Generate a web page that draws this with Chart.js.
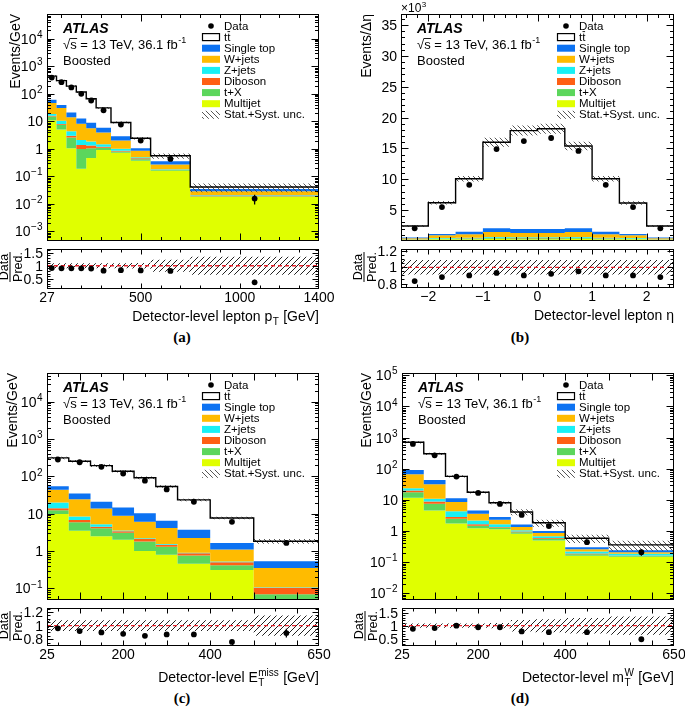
<!DOCTYPE html>
<html>
<head>
<meta charset="utf-8">
<title>ATLAS boosted control distributions</title>
<script src="https://cdn.jsdelivr.net/npm/chart.js@4.4.1/dist/chart.umd.min.js"></script>
<style>
  html, body { margin: 0; padding: 0; background: #fff; }
  body { position: relative; width: 685px; height: 709px; overflow: hidden; }
  canvas { position: absolute; }
  .tag { position: absolute; width: 40px; text-align: center; line-height: 18px;
         font: bold 15px "Liberation Serif", "Times New Roman", serif; color: #000; }
</style>
</head>
<body>
<div class="tag" style="left:162px;top:329px">(a)</div>
<div class="tag" style="left:500px;top:329px">(b)</div>
<div class="tag" style="left:162px;top:690px">(c)</div>
<div class="tag" style="left:500px;top:690px">(d)</div>
<script>
var FONT = '"Liberation Sans", Arial, Helvetica, sans-serif';

// sample order, bottom of the stack first
var sampleNames = ['Multijet', 't+X', 'Diboson', 'Z+jets', 'W+jets', 'Single top'];
var sampleColors = ['#e0ff00', '#5cd65c', '#ff5f14', '#18f0f5', '#ffbb00', '#0c72f2'];

// (a) lepton pT
var ptEdges = [27, 75, 125, 175, 225, 275, 350, 450, 550, 750, 1400];
var ptData = [388, 265, 170, 100, 57, 25, 7.6, 2.0, 0.43, 0.0155];
var ptDataErr = [6, 5, 4, 3, 2, 1, 0.3, 0.1, 0.04, 0.006];
var ptTtbar = [377, 262, 169, 103, 57, 25, 6.25, 1.38, 0.21, 0.006];
var ptSingleTop = [14, 9, 7, 4.5, 3.3, 2.0, 0.85, 0.2, 0.08, 0.006];
var ptWjets = [28, 20, 9.6, 6.1, 3.75, 2.4, 1.0, 0.36, 0.09, 0.008];
var ptZjets = [2.5, 2.5, 1.4, 0.7, 0.55, 0.28, 0.15, 0.04, 0.005, 0.001];
var ptDiboson = [1, 0.5, 0.4, 0.4, 0.25, 0.1, 0.05, 0.03, 0.005, 0.001];
var ptTX = [4, 2.5, 1.5, 0.8, 0.6, 0.2, 0.08, 0.05, 0.01, 0.001];
var ptMultijet = [11, 5, 1.06, 0.19, 0.46, 0.9, 0.72, 0.37, 0.16, 0.018];
var ptUnc = [0.08, 0.08, 0.08, 0.08, 0.08, 0.08, 0.09, 0.1, 0.22, 0.35];
var ptRatioUnc = [0.1, 0.1, 0.1, 0.1, 0.1, 0.1, 0.1, 0.11, 0.23, 0.35];
var ptRatio = [0.91, 0.90, 0.90, 0.90, 0.89, 0.81, 0.83, 0.82, 0.80, 0.36];
var ptRatioErr = [0.01, 0.01, 0.01, 0.01, 0.02, 0.02, 0.03, 0.04, 0.05, 0.1];
var ptTickLabels = [27, 500, 1000, 1400];

// (b) lepton eta
var etaEdges = [-2.5, -2, -1.5, -1, -0.5, 0, 0.5, 1, 1.5, 2, 2.5];
var etaData = [2060, 5500, 9100, 14900, 16200, 16700, 14600, 9100, 5500, 2060];
var etaDataErr = [50, 80, 100, 120, 130, 130, 120, 100, 80, 50];
var etaTtbar = [1880, 5050, 8600, 13950, 15950, 16250, 13350, 8600, 5000, 1880];
var etaSingleTop = [100, 200, 400, 600, 650, 650, 600, 400, 200, 100];
var etaWjets = [200, 450, 560, 800, 700, 700, 800, 560, 450, 200];
var etaZjets = [40, 80, 100, 120, 120, 120, 120, 100, 80, 40];
var etaDiboson = [10, 20, 20, 30, 30, 30, 30, 20, 20, 10];
var etaTX = [50, 100, 120, 150, 150, 150, 150, 120, 100, 50];
var etaMultijet = [150, 300, 300, 350, 300, 300, 350, 300, 300, 150];
var etaUnc = [0.05, 0.045, 0.045, 0.045, 0.045, 0.045, 0.045, 0.045, 0.045, 0.05];
var etaRatioUnc = [0.09, 0.09, 0.09, 0.09, 0.09, 0.09, 0.09, 0.09, 0.09, 0.09];
var etaRatio = [0.83, 0.88, 0.90, 0.93, 0.90, 0.92, 0.95, 0.90, 0.90, 0.88];
var etaRatioErr = [0.01, 0.01, 0.01, 0.01, 0.01, 0.01, 0.01, 0.01, 0.01, 0.01];
var etaTickLabels = [-2, -1, 0, 1, 2];
var etaYTickLabels = [5000, 10000, 15000, 20000, 25000, 30000, 35000];

// (c) missing transverse momentum
var metEdges = [25, 75, 125, 175, 225, 275, 325, 400, 500, 650];
var metData = [284, 240, 181, 120, 77, 45, 21, 6.1, 1.66];
var metDataErr = [5, 4, 3, 3, 2, 1.5, 1, 0.4, 0.15];
var metTtbar = [259, 221, 174, 123, 81.6, 47.5, 19.8, 6.04, 1.31];
var metSingleTop = [11, 10.5, 7, 5.8, 4.3, 2.3, 1.45, 0.56, 0.18];
var metWjets = [24, 16, 8.7, 5.3, 3.9, 2.6, 1.35, 0.57, 0.245];
var metZjets = [6, 1.7, 0.7, 0.15, 0.1, 0.08, 0.04, 0.03, 0.003];
var metDiboson = [1.5, 0.9, 0.4, 0.3, 0.3, 0.18, 0.11, 0.08, 0.035];
var metTX = [2.7, 2.4, 1.6, 1.1, 0.8, 0.5, 0.3, 0.11, 0.05];
var metMultijet = [9.8, 3.5, 2.5, 2.0, 1.0, 0.8, 0.46, 0.31, 0.02];
var metUnc = [0.08, 0.08, 0.08, 0.08, 0.08, 0.08, 0.08, 0.08, 0.15];
var metRatio = [0.96, 0.92, 0.90, 0.88, 0.85, 0.87, 0.87, 0.76, 0.89];
var metRatioErr = [0.01, 0.01, 0.01, 0.01, 0.01, 0.02, 0.02, 0.03, 0.065];
var metTickLabels = [25, 200, 400, 650];

// (d) W transverse mass
var mtwEdges = [25, 75, 125, 175, 225, 275, 325, 400, 500, 650];
var mtwData = [630, 270, 56, 16.7, 7.4, 3.3, 1.44, 0.44, 0.21];
var mtwDataErr = [10, 6, 2, 0.7, 0.4, 0.25, 0.15, 0.07, 0.05];
var mtwTtbar = [619, 259, 45.6, 13, 5.3, 2.47, 0.84, 0.29, 0.12];
var mtwSingleTop = [24, 12, 2.9, 1.0, 0.5, 0.27, 0.14, 0.04, 0.03];
var mtwWjets = [43.5, 21, 4.2, 1.4, 0.65, 0.3, 0.18, 0.04, 0.025];
var mtwZjets = [3.5, 1.9, 1.45, 0.54, 0.3, 0.1, 0.08, 0.03, 0.02];
var mtwDiboson = [2.4, 1.4, 0.35, 0.18, 0.06, 0.04, 0.03, 0.01, 0.005];
var mtwTX = [5.9, 2.9, 0.75, 0.26, 0.15, 0.1, 0.07, 0.02, 0.01];
var mtwMultijet = [11.7, 4.6, 1.75, 1.22, 1.15, 0.82, 0.5, 0.16, 0.15];
var mtwUnc = [0.08, 0.08, 0.08, 0.08, 0.1, 0.22, 0.25, 0.3, 0.35];
var mtwRatio = [0.88, 0.91, 1.0, 0.94, 0.94, 0.78, 0.75, 0.75, 0.48];
var mtwRatioErr = [0.01, 0.01, 0.02, 0.02, 0.03, 0.04, 0.05, 0.07, 0.08];
var mtwTickLabels = [25, 200, 400, 650];

function range(a, b, step) {
  var out = [];
  for (var v = a; v <= b + step / 1000; v += step) {
    out.push(Math.round(v * 1000) / 1000);
  }
  return out;
}

function centers(edges) {
  return edges.slice(1).map(function (e, i) { return (e + edges[i]) / 2; });
}

function points(xs, ys) {
  return ys.map(function (y, i) { return { x: xs[i], y: y }; });
}

// histogram as a step line: one point per lower edge plus the last upper edge
function steps(edges, vals) {
  var pts = points(edges, vals);
  pts.push({ x: edges[edges.length - 1], y: vals[vals.length - 1] });
  return pts;
}

function cumulate(list) {
  var out = [];
  list.forEach(function (arr, k) {
    out.push(arr.map(function (v, i) { return k ? out[k - 1][i] + v : v; }));
  });
  return out;
}

function makeHatch(color, dir, size, width) {
  var c = document.createElement('canvas');
  c.width = size;
  c.height = size;
  var g = c.getContext('2d');
  g.strokeStyle = color;
  g.lineWidth = width;
  for (var k = -1; k <= 1; k++) {
    g.beginPath();
    if (dir === '/') {
      g.moveTo(k * size, size);
      g.lineTo(k * size + size, 0);
    } else {
      g.moveTo(k * size, 0);
      g.lineTo(k * size + size, size);
    }
    g.stroke();
  }
  return g.createPattern(c, 'repeat');
}

var hatchMain = makeHatch('#444', '\\', 5, 0.9);
var hatchRatio = makeHatch('#222', '/', 6, 1);

function logLabels(exps) {
  return exps.map(function (e) {
    var parts = e === 0 ? [{ t: '1' }] : e === 1 ? [{ t: '10' }] : [{ t: '10' }, { sup: String(e).replace('-', '\u2212') }];
    return { v: Math.pow(10, e), parts: parts };
  });
}

function logMinor(lo, hi) {
  var out = [];
  for (var e = Math.floor(Math.log10(lo)); e <= Math.ceil(Math.log10(hi)); e++) {
    for (var k = 2; k <= 9; k++) {
      var v = k * Math.pow(10, e);
      if (v > lo && v < hi) out.push(v);
    }
  }
  return out;
}

function plainLabels(vals, div) {
  return vals.map(function (v) {
    var n = v / (div || 1);
    return { v: v, parts: [{ t: (n < 0 ? '\u2212' : '') + Math.abs(n) }] };
  });
}

// rich text: {t} plain, {sup}, {sub}, or both stacked
function drawRich(ctx, parts, x, y, align, size) {
  var small = Math.round(size * 0.68);
  var widths = [];
  var total = 0;
  parts.forEach(function (p) {
    var w;
    if (p.t !== undefined) {
      ctx.font = size + 'px ' + FONT;
      w = ctx.measureText(p.t).width;
    } else {
      ctx.font = small + 'px ' + FONT;
      w = Math.max(p.sub ? ctx.measureText(p.sub).width : 0, p.sup ? ctx.measureText(p.sup).width : 0) + 1;
    }
    widths.push(w);
    total += w;
  });
  var cx = align === 'right' ? x - total : align === 'center' ? x - total / 2 : x;
  ctx.textAlign = 'left';
  parts.forEach(function (p, i) {
    if (p.t !== undefined) {
      ctx.font = size + 'px ' + FONT;
      ctx.fillText(p.t, cx, y);
    } else {
      ctx.font = small + 'px ' + FONT;
      if (p.sup) ctx.fillText(p.sup, cx + 0.5, y - size * 0.42);
      if (p.sub) ctx.fillText(p.sub, cx + 0.5, y + size * 0.3);
    }
    cx += widths[i];
  });
}

var panels = [
  {
    id: 'a', edges: ptEdges, data: ptData, dataErr: ptDataErr, ttbar: ptTtbar,
    stack: [ptMultijet, ptTX, ptDiboson, ptZjets, ptWjets, ptSingleTop],
    unc: ptUnc, ratioUnc: ptRatioUnc, ratio: ptRatio, ratioErr: ptRatioErr,
    log: true, yMin: 4.47e-4, yMax: 7.94e4, rMin: 0.1, rMax: 1.65,
    mainBox: { x: 0, y: 0, w: 342, h: 245 }, ratioBox: { x: 0, y: 245, w: 342, h: 85 },
    frame: { l: 47, r: 319, t: 14, b: 243 }, rFrame: { t: 248, b: 289 },
    xMajor: [500, 1000], xMinor: range(100, 1300, 100), xLabels: plainLabels(ptTickLabels),
    yLabels: logLabels([-3, -2, -1, 0, 1, 2, 3, 4]), yMinor: logMinor(4.47e-4, 7.94e4),
    rMajor: [0.5, 1, 1.5], rMinor: range(0.2, 1.6, 0.1), rLabels: ['0.5', '1', '1.5'],
    yTitle: 'Events/GeV', yTitleDx: -31, xTitleDy: 32,
    xTitle: [{ t: 'Detector-level lepton p' }, { sub: 'T' }, { t: ' [GeV]' }]
  },
  {
    id: 'b', edges: etaEdges, data: etaData, dataErr: etaDataErr, ttbar: etaTtbar,
    stack: [etaMultijet, etaTX, etaDiboson, etaZjets, etaWjets, etaSingleTop],
    unc: etaUnc, ratioUnc: etaRatioUnc, ratio: etaRatio, ratioErr: etaRatioErr,
    log: false, yMin: 0, yMax: 36800, rMin: 0.745, rMax: 1.225, scaleNote: true,
    mainBox: { x: 342, y: 0, w: 343, h: 245 }, ratioBox: { x: 342, y: 245, w: 343, h: 85 },
    frame: { l: 401, r: 674, t: 14, b: 243 }, rFrame: { t: 248, b: 288 },
    xMajor: etaTickLabels, xMinor: range(-2.4, 2.4, 0.2), xLabels: plainLabels(etaTickLabels),
    yLabels: plainLabels(etaYTickLabels, 1000), yMinor: range(1000, 36000, 1000),
    rMajor: [0.8, 1, 1.2], rMinor: range(0.75, 1.2, 0.05), rLabels: ['0.8', '1', '1.2'],
    yTitle: 'Events/\u0394\u03b7', yTitleDx: -34, xTitleDy: 32,
    xTitle: [{ t: 'Detector-level lepton \u03b7' }]
  },
  {
    id: 'c', edges: metEdges, data: metData, dataErr: metDataErr, ttbar: metTtbar,
    stack: [metMultijet, metTX, metDiboson, metZjets, metWjets, metSingleTop],
    unc: metUnc, ratioUnc: metUnc, ratio: metRatio, ratioErr: metRatioErr,
    log: true, yMin: 0.049, yMax: 5.9e4, rMin: 0.7, rMax: 1.26,
    mainBox: { x: 0, y: 345, w: 342, h: 259 }, ratioBox: { x: 0, y: 604, w: 342, h: 105 },
    frame: { l: 47, r: 319, t: 373, b: 602 }, rFrame: { t: 607, b: 646 },
    xMajor: range(100, 600, 100), xMinor: range(50, 600, 50), xLabels: plainLabels(metTickLabels),
    yLabels: logLabels([-1, 0, 1, 2, 3, 4]), yMinor: logMinor(0.049, 5.9e4),
    rMajor: [0.8, 1, 1.2], rMinor: range(0.75, 1.25, 0.05), rLabels: ['0.8', '1', '1.2'],
    yTitle: 'Events/GeV', yTitleDx: -34, xTitleDy: 36,
    xTitle: [{ t: 'Detector-level E' }, { sub: 'T', sup: 'miss' }, { t: ' [GeV]' }]
  },
  {
    id: 'd', edges: mtwEdges, data: mtwData, dataErr: mtwDataErr, ttbar: mtwTtbar,
    stack: [mtwMultijet, mtwTX, mtwDiboson, mtwZjets, mtwWjets, mtwSingleTop],
    unc: mtwUnc, ratioUnc: mtwUnc, ratio: mtwRatio, ratioErr: mtwRatioErr,
    log: true, yMin: 0.0061, yMax: 1.19e5, rMin: 0.22, rMax: 1.68,
    mainBox: { x: 342, y: 345, w: 343, h: 259 }, ratioBox: { x: 342, y: 604, w: 343, h: 105 },
    frame: { l: 402, r: 674, t: 373, b: 602 }, rFrame: { t: 608, b: 646 },
    xMajor: range(100, 600, 100), xMinor: range(50, 600, 50), xLabels: plainLabels(mtwTickLabels),
    yLabels: logLabels([-2, -1, 0, 1, 2, 3, 4, 5]), yMinor: logMinor(0.0061, 1.19e5),
    rMajor: [0.5, 1, 1.5], rMinor: range(0.3, 1.6, 0.1), rLabels: ['0.5', '1', '1.5'],
    yTitle: 'Events/GeV', yTitleDx: -35, xTitleDy: 36,
    xTitle: [{ t: 'Detector-level m' }, { sub: 'T', sup: 'W' }, { t: ' [GeV]' }]
  }
];

function drawFrame(chart, p, kind) {
  var ctx = chart.ctx;
  var a = chart.chartArea;
  var xs = chart.scales.x;
  var ys = chart.scales.y;
  var L = Math.round(a.left) + 0.5, R = Math.round(a.right) - 0.5;
  var T = Math.round(a.top) + 0.5, B = Math.round(a.bottom) - 0.5;
  var main = kind === 'main';
  ctx.strokeStyle = '#000';
  ctx.lineWidth = 1;
  ctx.beginPath();
  function xt(v, len) {
    var x = Math.round(xs.getPixelForValue(v)) + 0.5;
    ctx.moveTo(x, B); ctx.lineTo(x, B - len);
    ctx.moveTo(x, T); ctx.lineTo(x, T + len);
  }
  function yt(v, len) {
    var y = Math.round(ys.getPixelForValue(v)) + 0.5;
    if (y < T || y > B) return;
    ctx.moveTo(L, y); ctx.lineTo(L + len, y);
    ctx.moveTo(R, y); ctx.lineTo(R - len, y);
  }
  p.xMinor.forEach(function (v) { xt(v, main ? 3.5 : 3); });
  p.xMajor.forEach(function (v) { xt(v, main ? 7 : 5); });
  if (main) {
    p.yMinor.forEach(function (v) { yt(v, 3.5); });
    p.yLabels.forEach(function (l) { yt(l.v, 7); });
  } else {
    p.rMinor.forEach(function (v) { yt(v, 3); });
    p.rMajor.forEach(function (v) { yt(v, 6); });
  }
  ctx.stroke();
  ctx.strokeRect(L, T, R - L, B - T);

  ctx.fillStyle = '#000';
  ctx.textBaseline = 'alphabetic';
  if (main) {
    p.yLabels.forEach(function (l) {
      drawRich(ctx, l.parts, a.left - 4, ys.getPixelForValue(l.v) + 5, 'right', 14);
    });
  } else {
    p.rMajor.forEach(function (v, i) {
      drawRich(ctx, [{ t: p.rLabels[i] }], a.left - 4, ys.getPixelForValue(v) + 5, 'right', 14);
    });
    p.xLabels.forEach(function (l) {
      drawRich(ctx, l.parts, xs.getPixelForValue(l.v), a.bottom + 12.5, 'center', 14);
    });
  }
}

function drawMainText(chart, p) {
  var ctx = chart.ctx;
  var a = chart.chartArea;
  var x0 = a.left + 16;
  ctx.fillStyle = '#000';
  ctx.strokeStyle = '#000';
  ctx.textAlign = 'left';
  ctx.textBaseline = 'alphabetic';
  ctx.font = 'italic bold 14px ' + FONT;
  ctx.fillText('ATLAS', x0, a.top + 18.5);
  drawRich(ctx, [{ t: '\u221as = 13 TeV, 36.1 fb' }, { sup: '-1' }], x0, a.top + 34.5, 'left', 13);
  ctx.font = '13px ' + FONT;
  var w1 = ctx.measureText('\u221a').width, w2 = ctx.measureText('\u221as').width;
  ctx.lineWidth = 0.9;
  ctx.beginPath();
  ctx.moveTo(x0 + w1 - 0.5, a.top + 24.5);
  ctx.lineTo(x0 + w2 + 0.5, a.top + 24.5);
  ctx.stroke();
  ctx.fillText('Boosted', x0, a.top + 51);

  if (p.scaleNote) {
    drawRich(ctx, [{ t: '\u00d710' }, { sup: '3' }], a.left, a.top - 2, 'left', 12);
  }

  ctx.save();
  ctx.translate(a.left + p.yTitleDx, a.top);
  ctx.rotate(-Math.PI / 2);
  ctx.font = '14px ' + FONT;
  ctx.textAlign = 'right';
  ctx.textBaseline = 'middle';
  ctx.fillText(p.yTitle, 0, 0);
  ctx.restore();
}

function drawLegend(chart) {
  var ctx = chart.ctx;
  var a = chart.chartArea;
  var bx = a.right - 117, tx = a.right - 95, y0 = a.top + 12, dy = 11.1;
  var items = [{ label: 'Data', kind: 'dot' }, { label: 'tt', kind: 'open' }];
  for (var k = sampleNames.length - 1; k >= 0; k--) {
    items.push({ label: sampleNames[k], kind: 'box', color: sampleColors[k] });
  }
  items.push({ label: 'Stat.+Syst. unc.', kind: 'hatch' });
  items.forEach(function (it, i) {
    var cy = y0 + i * dy;
    if (it.kind === 'dot') {
      ctx.fillStyle = '#000';
      ctx.beginPath();
      ctx.arc(bx + 9, cy, 2.8, 0, 2 * Math.PI);
      ctx.fill();
    } else if (it.kind === 'open') {
      ctx.fillStyle = '#fff';
      ctx.fillRect(bx, cy - 3.5, 18, 7);
      ctx.strokeStyle = '#000';
      ctx.lineWidth = 1.2;
      ctx.strokeRect(bx + 0.5, cy - 3.5, 17, 7);
    } else if (it.kind === 'hatch') {
      ctx.fillStyle = hatchMain;
      ctx.fillRect(bx, cy - 4, 18, 8);
    } else {
      ctx.fillStyle = it.color;
      ctx.fillRect(bx, cy - 3.5, 18, 7);
    }
    ctx.fillStyle = '#000';
    ctx.font = '11.5px ' + FONT;
    ctx.textAlign = 'left';
    ctx.textBaseline = 'middle';
    ctx.fillText(it.label, tx, cy + 0.5);
    if (it.kind === 'open') {
      var w1 = ctx.measureText('t').width, w2 = ctx.measureText('tt').width;
      ctx.strokeStyle = '#000';
      ctx.lineWidth = 0.9;
      ctx.beginPath();
      ctx.moveTo(tx + w1 + 0.3, cy - 5.5);
      ctx.lineTo(tx + w2 - 0.3, cy - 5.5);
      ctx.stroke();
    }
  });
}

function drawRatioText(chart, p) {
  var ctx = chart.ctx;
  var a = chart.chartArea;
  ctx.save();
  ctx.translate(a.left - 37, a.top + 18);
  ctx.rotate(-Math.PI / 2);
  ctx.fillStyle = '#000';
  ctx.strokeStyle = '#000';
  ctx.font = '12.5px ' + FONT;
  ctx.textAlign = 'center';
  ctx.textBaseline = 'alphabetic';
  ctx.fillText('Data', 0, -2.5);
  ctx.textBaseline = 'top';
  ctx.fillText('Pred.', 0, 2);
  var w = ctx.measureText('Pred.').width;
  ctx.lineWidth = 1;
  ctx.beginPath();
  ctx.moveTo(-w / 2, 0);
  ctx.lineTo(w / 2, 0);
  ctx.stroke();
  ctx.restore();
  ctx.fillStyle = '#000';
  ctx.textBaseline = 'alphabetic';
  drawRich(ctx, p.xTitle, a.right, a.bottom + p.xTitleDy, 'right', 14);
}

function drawErrors(chart, p, kind) {
  var ctx = chart.ctx;
  var a = chart.chartArea;
  var xs = chart.scales.x, ys = chart.scales.y;
  var vals = kind === 'main' ? p.data : p.ratio;
  var errs = kind === 'main' ? p.dataErr : p.ratioErr;
  var mids = centers(p.edges);
  ctx.save();
  ctx.beginPath();
  ctx.rect(a.left, a.top, a.right - a.left, a.bottom - a.top);
  ctx.clip();
  ctx.strokeStyle = '#000';
  ctx.lineWidth = 1.3;
  ctx.beginPath();
  vals.forEach(function (v, i) {
    var x = xs.getPixelForValue(mids[i]);
    ctx.moveTo(x, ys.getPixelForValue(Math.max(v - errs[i], 1e-9)));
    ctx.lineTo(x, ys.getPixelForValue(v + errs[i]));
  });
  ctx.stroke();
  ctx.restore();
}

function atlasPlugin(p, kind) {
  return {
    id: 'atlas_' + p.id + '_' + kind,
    afterDatasetsDraw: function (chart) { drawErrors(chart, p, kind); },
    afterDraw: function (chart) {
      chart.ctx.save();
      drawFrame(chart, p, kind);
      if (kind === 'main') {
        drawMainText(chart, p);
        drawLegend(chart);
      } else {
        drawRatioText(chart, p);
      }
      chart.ctx.restore();
    }
  };
}

function makeCanvas(box) {
  var c = document.createElement('canvas');
  c.width = box.w;
  c.height = box.h;
  c.style.left = box.x + 'px';
  c.style.top = box.y + 'px';
  c.style.width = box.w + 'px';
  c.style.height = box.h + 'px';
  document.body.appendChild(c);
  return c;
}

function baseOptions(box, area, x0, x1, yType, y0, y1) {
  return {
    responsive: false,
    animation: false,
    devicePixelRatio: 1,
    events: [],
    layout: {
      padding: {
        left: area.l - box.x,
        right: box.x + box.w - area.r,
        top: area.t - box.y,
        bottom: box.y + box.h - area.b
      }
    },
    plugins: { legend: { display: false }, tooltip: { enabled: false } },
    elements: { point: { radius: 0, hitRadius: 0 }, line: { tension: 0 } },
    scales: {
      x: { type: 'linear', display: false, min: x0, max: x1, bounds: 'data' },
      y: { type: yType, display: false, min: y0, max: y1, bounds: 'data' }
    }
  };
}

function buildPanel(p) {
  var mids = centers(p.edges);
  var x0 = p.edges[0], x1 = p.edges[p.edges.length - 1];
  var cum = cumulate(p.stack);
  var total = cum[cum.length - 1].map(function (v, i) { return v + p.ttbar[i]; });

  var main = [
    { label: 'Data', data: points(mids, p.data), showLine: false, pointRadius: 2.9,
      pointBackgroundColor: '#000', pointBorderWidth: 0 },
    { label: 'tt', data: steps(p.edges, total), stepped: true, borderColor: '#000',
      borderWidth: 1.4, fill: false },
    { label: 'Stat.+Syst. unc.', data: steps(p.edges, total.map(function (v, i) { return v * (1 + p.unc[i]); })),
      stepped: true, borderWidth: 0, borderColor: 'transparent', backgroundColor: hatchMain, fill: '+1' },
    { label: 'unc low', data: steps(p.edges, total.map(function (v, i) { return v * (1 - p.unc[i]); })),
      stepped: true, borderWidth: 0, borderColor: 'transparent', fill: false }
  ];
  for (var k = cum.length - 1; k >= 0; k--) {
    main.push({ label: sampleNames[k], data: steps(p.edges, cum[k]), stepped: true,
      borderWidth: 0, borderColor: 'transparent', backgroundColor: sampleColors[k],
      fill: k === 0 ? 'start' : '+1' });
  }

  new Chart(makeCanvas(p.mainBox), {
    type: 'line',
    data: { datasets: main },
    options: baseOptions(p.mainBox, p.frame, x0, x1, p.log ? 'logarithmic' : 'linear', p.yMin, p.yMax),
    plugins: [atlasPlugin(p, 'main')]
  });

  var frameRatio = { l: p.frame.l, r: p.frame.r, t: p.rFrame.t, b: p.rFrame.b };
  var ratio = [
    { label: 'Data/Pred.', data: points(mids, p.ratio), showLine: false, pointRadius: 2.9,
      pointBackgroundColor: '#000', pointBorderWidth: 0 },
    { label: 'unity', data: [{ x: x0, y: 1 }, { x: x1, y: 1 }], borderColor: '#e8202a',
      borderWidth: 1.3, borderDash: [4, 3], fill: false },
    { label: 'unc up', data: steps(p.edges, p.ratioUnc.map(function (u) { return 1 + u; })),
      stepped: true, borderWidth: 0, borderColor: 'transparent', backgroundColor: hatchRatio, fill: '+1' },
    { label: 'unc down', data: steps(p.edges, p.ratioUnc.map(function (u) { return 1 - u; })),
      stepped: true, borderWidth: 0, borderColor: 'transparent', fill: false }
  ];
  new Chart(makeCanvas(p.ratioBox), {
    type: 'line',
    data: { datasets: ratio },
    options: baseOptions(p.ratioBox, frameRatio, x0, x1, 'linear', p.rMin, p.rMax),
    plugins: [atlasPlugin(p, 'ratio')]
  });
}

panels.forEach(buildPanel);
</script>
</body>
</html>
